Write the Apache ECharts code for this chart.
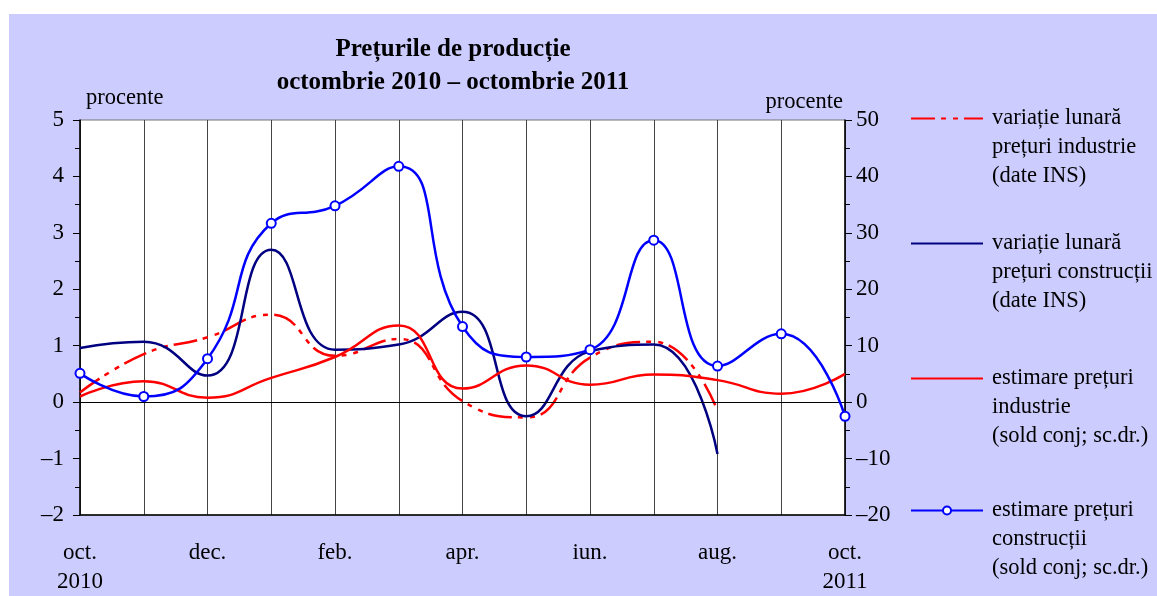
<!DOCTYPE html>
<html>
<head>
<meta charset="utf-8">
<script src="https://cdn.jsdelivr.net/npm/echarts@6/dist/echarts.min.js"></script>
<style>
  html, body { margin: 0; padding: 0; background: #fff; }
  #chart { position: absolute; left: 9px; top: 14px; width: 1148px; height: 582px; }
</style>
</head>
<body>
<div id="chart"></div>
<script>
// luni: oct. 2010 - oct. 2011
var months = ['oct.\n2010', 'nov.', 'dec.', 'ian.', 'feb.', 'mar.', 'apr.', 'mai', 'iun.', 'iul.', 'aug.', 'sep.', 'oct.\n2011'];
// scala stanga (procente)
var varIndustrie = [0.17, 0.85, 1.15, 1.55, 0.82, 1.12, 0.02, -0.27, 0.79, 1.07, -0.15, null, null];
var varConstructii = [0.96, 1.07, 0.47, 2.7, 0.93, 1.02, 1.6, -0.25, 0.9, 1.02, -0.92, null, null];
// scala dreapta (sold conjunctural)
var estIndustrie = [1.0, 3.7, 0.8, 4.3, 8.0, 13.6, 2.4, 6.5, 3.1, 4.9, 3.9, 1.5, 5.0];
var estConstructii = [5.1, 1.0, 7.7, 31.7, 34.8, 41.8, 13.4, 8.0, 9.3, 28.7, 6.4, 12.1, -2.5];

var names = [
    'variație lunară\nprețuri industrie\n(date INS)',
    'variație lunară\nprețuri construcții\n(date INS)',
    'estimare prețuri\nindustrie\n(sold conj; sc.dr.)',
    'estimare prețuri\nconstrucții\n(sold conj; sc.dr.)'
];

var font = 'Liberation Serif';
var legendTops = [32, 157, 292, 424];

function minus(v) { return String(v).replace('-', '\u2013'); }

// doua randuri goale inainte, ca linia legendei sa stea in dreptul primului rand
var legends = names.map(function (n, i) {
    return {
        data: [n],
        left: 901,
        top: legendTops[i],
        padding: 0,
        itemWidth: 72,
        itemHeight: i == 3 ? 10 : 14,
        selectedMode: false,
        itemStyle: i == 3 ? {} : { opacity: 0 },
        formatter: function (name) { return ' \n \n' + name; },
        textStyle: { fontFamily: font, fontSize: 22.5, color: '#000', lineHeight: 29, padding: [0, 0, 0, 4] }
    };
});

var chart = echarts.init(document.getElementById('chart'));
chart.setOption({
    backgroundColor: '#CCCCFF',
    animation: false,
    title: {
        text: 'Prețurile de producție\noctombrie 2010 – octombrie 2011',
        left: 439,
        top: 14,
        textAlign: 'center',
        textStyle: { fontFamily: font, fontSize: 25, fontWeight: 'bold', color: '#000', lineHeight: 33 }
    },
    legend: legends,
    grid: {
        left: 71, right: 312, top: 106, bottom: 73,
        show: true, backgroundColor: '#fff', borderColor: '#777', borderWidth: 1
    },
    xAxis: {
        type: 'category',
        data: months,
        boundaryGap: false,
        axisLine: { onZero: false, lineStyle: { color: '#000', width: 1.5 } },
        axisTick: { show: false },
        axisLabel: { interval: 1, margin: 23, fontFamily: font, fontSize: 23, color: '#000', lineHeight: 29 },
        splitLine: { show: true, interval: 0, lineStyle: { color: '#444', width: 1 } }
    },
    yAxis: [{
        type: 'value', min: -2, max: 5, interval: 1,
        name: 'procente', nameLocation: 'end', nameGap: 10,
        nameTextStyle: { fontFamily: font, fontSize: 22.5, color: '#000', align: 'left', padding: [0, 0, 0, 6] },
        axisLine: { show: true, lineStyle: { color: '#000', width: 1.5 } },
        axisTick: { show: true, length: 7, lineStyle: { color: '#000' } },
        minorTick: { show: true, splitNumber: 2, length: 5, lineStyle: { color: '#000' } },
        axisLabel: { fontFamily: font, fontSize: 23, color: '#000', margin: 16, formatter: minus },
        splitLine: { show: false }
    }, {
        type: 'value', min: -20, max: 50, interval: 10,
        name: 'procente', nameLocation: 'end', nameGap: 6,
        nameTextStyle: { fontFamily: font, fontSize: 22.5, color: '#000', align: 'right', padding: [0, 2, 0, 0] },
        axisLine: { show: true, lineStyle: { color: '#000', width: 1.5 } },
        axisTick: { show: true, length: 7, lineStyle: { color: '#000' } },
        minorTick: { show: true, splitNumber: 2, length: 5, lineStyle: { color: '#000' } },
        axisLabel: { fontFamily: font, fontSize: 23, color: '#000', margin: 11, formatter: minus },
        splitLine: { show: false }
    }],
    series: [{
        name: names[0], type: 'line', yAxisIndex: 0, data: varIndustrie,
        smooth: 0.5, symbol: 'none', z: 3,
        lineStyle: { color: '#FF0000', width: 2.5, type: [24, 6, 5, 7, 5, 6] },
        itemStyle: { color: '#FF0000' },
        markLine: {
            silent: true, symbol: 'none', label: { show: false },
            lineStyle: { color: '#000', width: 1, type: 'solid' },
            data: [{ yAxis: 0 }]
        }
    }, {
        name: names[1], type: 'line', yAxisIndex: 0, data: varConstructii,
        smooth: 0.5, symbol: 'none', z: 4,
        lineStyle: { color: '#000080', width: 2.5 },
        itemStyle: { color: '#000080' }
    }, {
        name: names[2], type: 'line', yAxisIndex: 1, data: estIndustrie,
        smooth: 0.5, symbol: 'none', z: 5,
        lineStyle: { color: '#FF0000', width: 2.5 },
        itemStyle: { color: '#FF0000' }
    }, {
        name: names[3], type: 'line', yAxisIndex: 1, data: estConstructii,
        smooth: 0.5, symbol: 'emptyCircle', symbolSize: 9, z: 6,
        lineStyle: { color: '#0000FF', width: 2.5 },
        itemStyle: { color: '#0000FF', borderColor: '#0000FF', borderWidth: 2 }
    }]
});
</script>
</body>
</html>
